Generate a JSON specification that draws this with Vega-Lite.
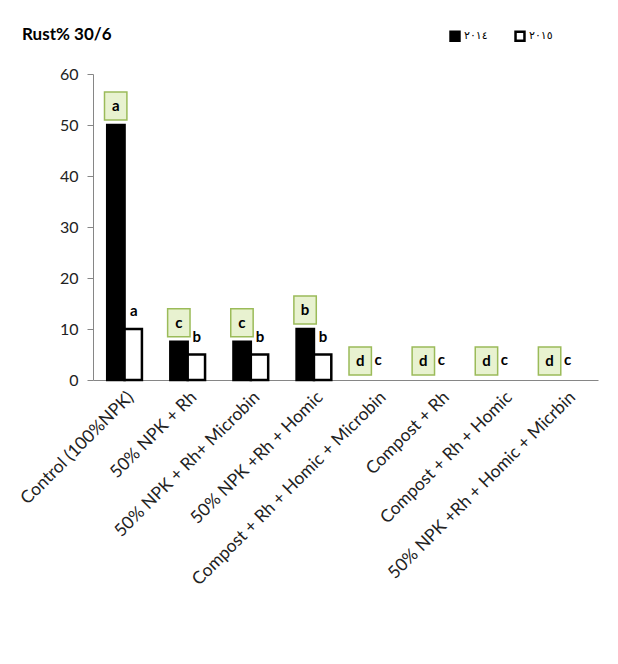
{
  "$schema": "https://vega.github.io/schema/vega-lite/v6.json",
  "autosize": "none",
  "width": 505,
  "height": 306,
  "padding": {"left": 93, "top": 74, "right": 20, "bottom": 284},
  "background": "white",
  "title": {
    "text": "Rust% 30/6",
    "anchor": "start",
    "frame": "group",
    "dx": -71,
    "offset": -14,
    "fontSize": 17,
    "fontWeight": "bold",
    "font": "Lato",
    "color": "#000000"
  },
  "config": {
    "view": {"stroke": null},
    "font": "Lato"
  },
  "data": {
    "values": [
      {"treatment": "Control (100%NPK)", "year": "٢٠١٤", "value": 50, "letter": "a"},
      {"treatment": "Control (100%NPK)", "year": "٢٠١٥", "value": 10, "letter": "a"},
      {"treatment": "50% NPK + Rh", "year": "٢٠١٤", "value": 7.5, "letter": "c"},
      {"treatment": "50% NPK + Rh", "year": "٢٠١٥", "value": 5, "letter": "b"},
      {"treatment": "50% NPK + Rh+ Microbin", "year": "٢٠١٤", "value": 7.5, "letter": "c"},
      {"treatment": "50% NPK + Rh+ Microbin", "year": "٢٠١٥", "value": 5, "letter": "b"},
      {"treatment": "50% NPK +Rh + Homic", "year": "٢٠١٤", "value": 10, "letter": "b"},
      {"treatment": "50% NPK +Rh + Homic", "year": "٢٠١٥", "value": 5, "letter": "b"},
      {"treatment": "Compost + Rh + Homic + Microbin", "year": "٢٠١٤", "value": 0, "letter": "d"},
      {"treatment": "Compost + Rh + Homic + Microbin", "year": "٢٠١٥", "value": 0, "letter": "c"},
      {"treatment": "Compost + Rh", "year": "٢٠١٤", "value": 0, "letter": "d"},
      {"treatment": "Compost + Rh", "year": "٢٠١٥", "value": 0, "letter": "c"},
      {"treatment": "Compost + Rh + Homic", "year": "٢٠١٤", "value": 0, "letter": "d"},
      {"treatment": "Compost + Rh + Homic", "year": "٢٠١٥", "value": 0, "letter": "c"},
      {"treatment": "50% NPK +Rh + Homic + Micrbin", "year": "٢٠١٤", "value": 0, "letter": "d"},
      {"treatment": "50% NPK +Rh + Homic + Micrbin", "year": "٢٠١٥", "value": 0, "letter": "c"}
    ]
  },
  "encoding": {
    "x": {
      "field": "treatment",
      "type": "nominal",
      "sort": null,
      "scale": {"paddingInner": 0.45, "paddingOuter": 0.225},
      "axis": {
        "title": null,
        "labelAngle": -45,
        "labelFontSize": 17.5,
        "labelColor": "#222222",
        "labelLimit": 400,
        "ticks": false,
        "labelPadding": 8,
        "domainColor": "#868686",
        "domainWidth": 1
      }
    },
    "y": {
      "field": "value",
      "type": "quantitative",
      "scale": {"domain": [0, 60], "nice": false},
      "axis": {
        "title": null,
        "values": [0, 10, 20, 30, 40, 50, 60],
        "grid": false,
        "labelFontSize": 16,
        "labelColor": "#222222",
        "labelPadding": 9,
        "tickSize": 6,
        "tickColor": "#868686",
        "domainColor": "#868686"
      }
    }
  },
  "layer": [
    {
      "transform": [{"filter": "datum.value > 0"}],
      "mark": {"type": "bar", "stroke": "#000000", "strokeWidth": 2.5},
      "encoding": {
        "xOffset": {"field": "year", "type": "nominal", "sort": null},
        "fill": {
          "field": "year",
          "type": "nominal",
          "sort": null,
          "scale": {"domain": ["٢٠١٤", "٢٠١٥"], "range": ["#000000", "#ffffff"]},
          "legend": {
            "title": null,
            "orient": "none",
            "direction": "horizontal",
            "legendX": 356,
            "legendY": -44,
            "symbolType": "square",
            "symbolSize": 80,
            "symbolStrokeColor": "#000000",
            "symbolStrokeWidth": 2.5,
            "labelFont": "DejaVu Sans",
            "labelFontSize": 11,
            "labelColor": "#000000",
            "columnPadding": 22,
            "labelOffset": 3
          }
        }
      }
    },
    {
      "transform": [{"filter": "datum.year == '٢٠١٤' && datum.value > 0"}],
      "mark": {"type": "point", "shape": "M-0.8,-1H0.8V1H-0.8Z", "size": 784, "filled": true, "fill": "#e8f2d0", "stroke": "#9bbb59", "strokeWidth": 1.5, "opacity": 1},
      "encoding": {"xOffset": {"value": 8.5}, "yOffset": {"value": -19}}
    },
    {
      "transform": [{"filter": "datum.year == '٢٠١٤' && datum.value == 0"}],
      "mark": {"type": "point", "shape": "M-0.8,-1H0.8V1H-0.8Z", "size": 784, "filled": true, "fill": "#e8f2d0", "stroke": "#9bbb59", "strokeWidth": 1.5, "opacity": 1},
      "encoding": {"xOffset": {"value": 0.5}, "yOffset": {"value": -19}}
    },
    {
      "transform": [{"filter": "datum.year == '٢٠١٤' && datum.value > 0"}],
      "mark": {"type": "text", "fontSize": 15, "fontWeight": "bold", "color": "#000000", "baseline": "middle"},
      "encoding": {"text": {"field": "letter"}, "xOffset": {"value": 8.5}, "yOffset": {"value": -19}}
    },
    {
      "transform": [{"filter": "datum.year == '٢٠١٤' && datum.value == 0"}],
      "mark": {"type": "text", "fontSize": 15, "fontWeight": "bold", "color": "#000000", "baseline": "middle"},
      "encoding": {"text": {"field": "letter"}, "xOffset": {"value": 0.5}, "yOffset": {"value": -19}}
    },
    {
      "transform": [{"filter": "datum.year == '٢٠١٥' && datum.value > 0"}],
      "mark": {"type": "text", "fontSize": 15, "fontWeight": "bold", "color": "#000000", "baseline": "middle"},
      "encoding": {"text": {"field": "letter"}, "xOffset": {"value": 26.5}, "yOffset": {"value": -18}}
    },
    {
      "transform": [{"filter": "datum.year == '٢٠١٥' && datum.value == 0"}],
      "mark": {"type": "text", "fontSize": 15, "fontWeight": "bold", "color": "#000000", "baseline": "middle"},
      "encoding": {"text": {"field": "letter"}, "xOffset": {"value": 18.5}, "yOffset": {"value": -20}}
    }
  ]
}
